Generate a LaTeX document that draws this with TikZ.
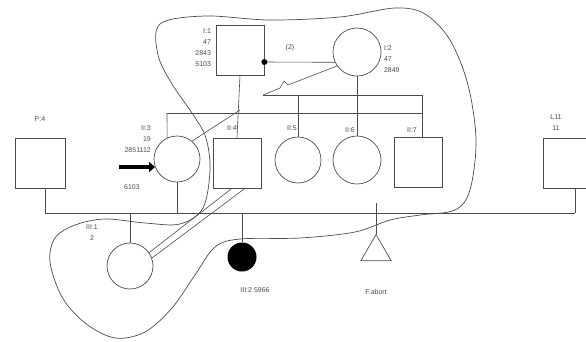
\documentclass[tikz,border=0pt]{standalone}
\usepackage{fontspec}
\setmainfont{Liberation Sans}
\usetikzlibrary{arrows.meta,calc,shapes.geometric}

\colorlet{ink}{black!70}
\tikzset{
  male/.style={draw=ink,line width=.7pt,minimum width=48pt,minimum height=50pt,inner sep=0pt},
  female/.style={draw=ink,line width=.7pt,circle,minimum size=46pt,inner sep=0pt},
  tag/.style={text=ink,font=\fontsize{7}{11}\selectfont,inner sep=.5pt},
  link/.style={draw=ink,line width=.6pt},
}

\begin{document}
\begin{tikzpicture}[x=1pt,y=-1pt]
\useasboundingbox (0,0) rectangle (586,341);

% outline round the affected branch
\draw[ink,line width=.7pt] plot[smooth cycle,tension=.55] coordinates {
  (160,24) (205,16) (270,20) (340,17) (395,8) (425,14) (450,40) (468,85)
  (476,140) (470,190) (455,210) (420,215) (390,220) (355,232) (300,238)
  (240,239) (215,247) (195,275) (172,308) (145,332) (115,338) (85,323)
  (62,297) (50,262) (55,238) (75,225) (105,219) (145,223) (180,224)
  (203,208) (210,170) (206,138) (194,116) (172,84) (158,55)};

% persons
\node[male] (F) at (240,50) {};
\node[female,minimum size=48pt] (M) at (357,52) {};
\node[female] (P) at (177,159) {};
\node[male] (S1) at (237,163) {};
\node[female] (D2) at (298,160) {};
\node[female,minimum size=48pt] (D3) at (357,160) {};
\node[male] (S4) at (418,162) {};
\node[male,minimum width=50pt] (P4) at (40,163) {};
\node[male] (L11) at (567,163) {};
\node[female] (G) at (130,266) {};
\node[circle,fill=black,minimum size=29pt,inner sep=0pt] (B) at (242,257) {};
\node[draw=ink,line width=.7pt,regular polygon,regular polygon sides=3,minimum size=35pt,inner sep=0pt] (T) at (376,252) {};

% couple
\draw[link] ($(F.east)+(0,12)$) coordinate (fm) -- (M.205);
\fill[black] (fm) circle (3pt);
\node[tag] at (290,48) {(2)};

% sibships
\coordinate (sibL) at (167,113);
\coordinate (sibR) at (422,113);
\coordinate (upL) at (263,95);
\coordinate (upR) at (422,95);
\coordinate (pk) at (240,110);
\draw[link] (F.south) -- (S1.north);
\draw[link] (sibL) -- (sibR);
\draw[link] (sibL) -- (P.115);
\draw[link] (upL) -- (upR) -- (upR |- S4.north);
\draw[link] (M.215) -- (288,85) -- (284,81) -- (280,88) -- (upL);
\draw[link] (D2.north |- upL) -- (D2.north);
\draw[link] (M.south) -- (D3.north);
\draw[link] (pk) -- (P.50);

% lower generation line
\coordinate (gl) at (45,213);
\coordinate (gr) at (575,213);
\draw[link] (gl) -- (gr);
\draw[link] (gl |- P4.south) -- (gl);
\draw[link] (gr |- L11.south) -- (gr);
\draw[link] (P.south) -- (P.south |- gl);
\draw[link] (G.north) -- (G.north |- gl);
\draw[link] (B.north) -- (B.north |- gl);
\draw[link] ($(T.corner 1 |- gl)+(0,-10)$) -- (T.corner 1);
\draw[link] (G.35) -- ($(S1.south)+(-5,0)$);
\draw[link] (G.20) -- ($(S1.south)+(8,0)$);

% proband
\draw[black,line width=4pt,-{Triangle[length=6pt,width=10pt]}] ($(P.200)+(-36,0)$) -- (P.200);

% labels
\node[tag,align=right,anchor=east] at ([xshift=-4pt,yshift=2pt]F.west) {I:1\\47\\2843\\5103};
\node[tag,align=left,anchor=west] at ([xshift=2pt,yshift=-7pt]M.east) {I:2\\47\\2849};
\node[tag,align=right,anchor=south east] at ([xshift=-9pt,yshift=-11pt]P.north west) {II:3\\19\\2851112};
\node[tag] at (132,187) {6103};
\node[tag] at (232,128) {II:4};
\node[tag] at (292,128) {II:5};
\node[tag] at (350,130) {II:6};
\node[tag] at (412,130) {II:7};
\node[tag] at (40,119) {P:4};
\node[tag,align=center] at (556,123) {L11\\11};
\node[tag,align=center] at (92,233) {III:1\\2};
\node[tag] at (255,290) {III:2 5966};
\node[tag] at (376,292) {F.abort};
\end{tikzpicture}
\end{document}
